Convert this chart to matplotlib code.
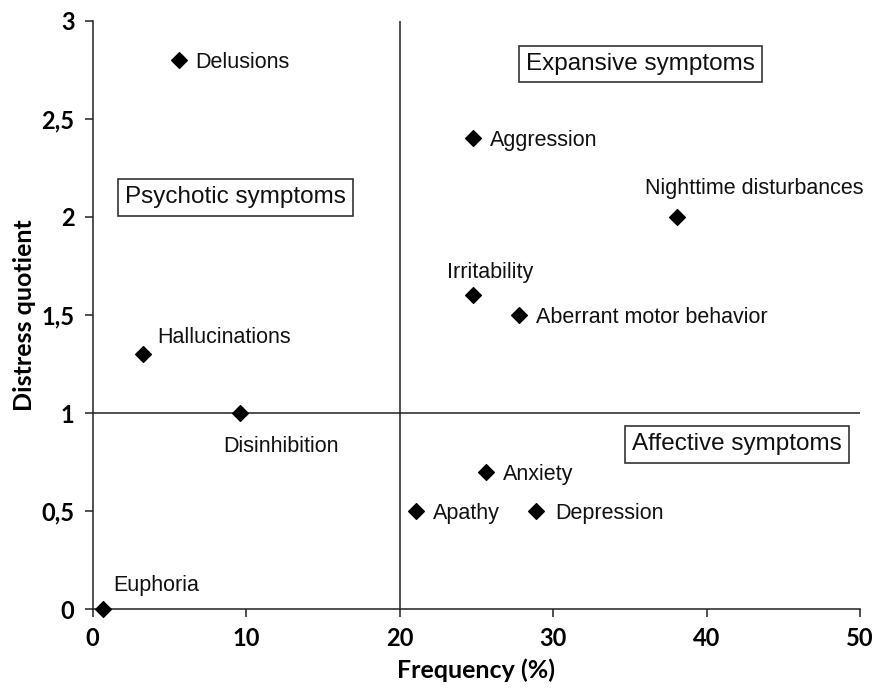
import matplotlib.pyplot as plt

# symptom data: frequency (%) and distress quotient
symptoms = ["Delusions", "Hallucinations", "Disinhibition", "Euphoria", "Aggression",
            "Nighttime disturbances", "Irritability", "Aberrant motor behavior",
            "Anxiety", "Apathy", "Depression"]
frequency = [5.6, 3.3, 9.6, 0.65, 24.8, 38.1, 24.8, 27.8, 25.6, 21.1, 28.9]
distress = [2.8, 1.3, 1.0, 0.0, 2.4, 2.0, 1.6, 1.5, 0.7, 0.5, 0.5]

x_ticks = [0, 10, 20, 30, 40, 50]
y_ticks = [0, 0.5, 1, 1.5, 2, 2.5, 3]
y_tick_labels = ["0", "0,5", "1", "1,5", "2", "2,5", "3"]

groups = ["Psychotic symptoms", "Expansive symptoms", "Affective symptoms"]
group_x = [9.3, 35.7, 42.0]
group_y = [2.10, 2.78, 0.84]

# label offsets in pixels (dx, dy)
label_pos = {
    "Delusions": (17, 0),
    "Hallucinations": (14, 19),
    "Disinhibition": (-17, -31),
    "Euphoria": (11, 26),
    "Aggression": (17, 0),
    "Nighttime disturbances": (-32, 31),
    "Irritability": (-26, 25),
    "Aberrant motor behavior": (17, 0),
    "Anxiety": (17, 0),
    "Apathy": (16, 0),
    "Depression": (19, 0),
}

fig = plt.figure(figsize=(8.74, 6.90), dpi=100)
ax = fig.add_axes([0.106, 0.117, 0.878, 0.853])

ax.scatter(frequency, distress, marker="D", s=64, color="black", zorder=3, clip_on=False)

for name, fx, dq in zip(symptoms, frequency, distress):
    dx, dy = label_pos[name]
    ax.annotate(name, (fx, dq), xytext=(dx, dy), textcoords="offset pixels",
                ha="left", va="center_baseline", fontsize=15.5, family="Liberation Sans",
                color="#111111")

for name, gx, gy in zip(groups, group_x, group_y):
    ax.text(gx, gy, name, ha="center", va="center", fontsize=17.5, family="Liberation Sans",
            color="#111111",
            bbox=dict(boxstyle="square,pad=0.3", facecolor="white", edgecolor="#333333", linewidth=1.2))

# quadrant dividers
ax.plot([0, 50], [1, 1], color="#222222", linewidth=1.1, zorder=1)
ax.plot([20, 20], [0, 3], color="#222222", linewidth=1.1, zorder=1)

ax.set_xlim(0, 50)
ax.set_ylim(0, 3)
ax.set_xticks(x_ticks)
ax.set_yticks(y_ticks)
ax.set_yticklabels(y_tick_labels)

for side in ["top", "right"]:
    ax.spines[side].set_visible(False)
for side in ["left", "bottom"]:
    ax.spines[side].set_linewidth(1.1)
    ax.spines[side].set_color("#222222")

ax.tick_params(direction="out", length=6, width=1.1, color="#222222", pad=7)
for lbl in ax.get_xticklabels() + ax.get_yticklabels():
    lbl.set_family("Lato")
    lbl.set_fontweight("bold")
    lbl.set_fontsize(17)

ax.set_xlabel("Frequency (%)", family="Lato", fontweight="bold", fontsize=18, labelpad=6)
ax.set_ylabel("Distress quotient", family="Lato", fontweight="bold", fontsize=18, labelpad=4)

fig.savefig("out.png", dpi=100)
